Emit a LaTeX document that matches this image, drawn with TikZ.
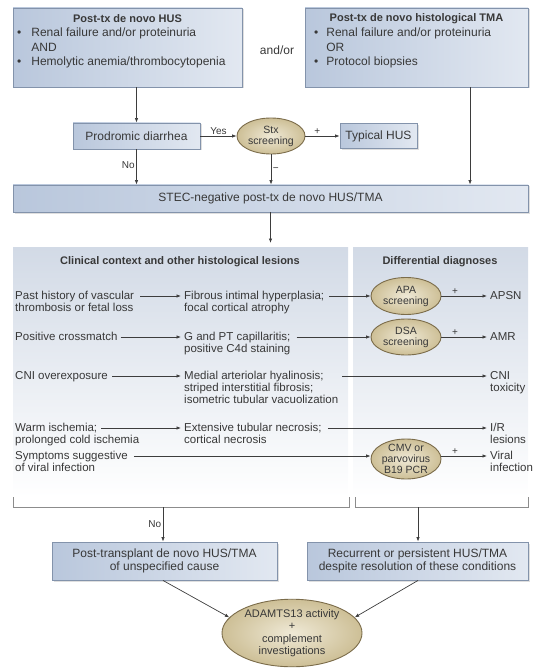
\documentclass[tikz,border=0pt]{standalone}
\usepackage{fontspec}
\setmainfont{Liberation Sans}
\usetikzlibrary{arrows.meta,shadows,shapes.geometric}
\definecolor{boxline}{HTML}{8393AB}
\definecolor{boxL}{HTML}{B9C7DC}
\definecolor{boxR}{HTML}{E2E8F1}
\definecolor{ovline}{HTML}{7B6C4A}
\definecolor{ovin}{HTML}{EFE9D6}
\definecolor{ovout}{HTML}{CDBF96}
\definecolor{arrc}{HTML}{3D3D3D}
\definecolor{txt}{HTML}{383838}
\definecolor{panelT}{HTML}{D2DAE6}
\definecolor{brk}{HTML}{8C8C8C}
\begin{document}
\begin{tikzpicture}[x=1pt,y=-1pt,
  font=\fontsize{12}{13}\selectfont, text=txt,
  bbox/.style={draw=boxline,line width=0.9pt,left color=boxL,right color=boxR,inner sep=0pt,align=center,
    drop shadow={opacity=0.25,shadow xshift=1.5pt,shadow yshift=-1.5pt}},
  oval/.style={ellipse,draw=ovline,line width=0.9pt,inner color=ovin,outer color=ovout,inner sep=0pt,align=center,
    font=\fontsize{10.5}{11}\selectfont},
  panel/.style={draw=none,top color=panelT,bottom color=white,anchor=north west,inner sep=0pt},
  arr/.style={draw=arrc,line width=0.7pt,-{Latex[length=4.5pt,width=3.5pt]}},
  brkline/.style={draw=brk,line width=0.8pt},
  lbl/.style={font=\fontsize{10}{11}\selectfont,inner sep=1.5pt},
  txtl/.style={anchor=north west,align=left,inner sep=0pt,font=\fontsize{11.5}{12}\selectfont},
  blist/.style={anchor=north west,inner sep=0pt,font=\fontsize{12}{14.5}\selectfont},
  hd/.style={font=\bfseries\fontsize{11}{13}\selectfont,inner sep=0pt}
]
\useasboundingbox (0,0) rectangle (533,668);

% ---------- top boxes ----------
\node[bbox, minimum width=229pt, minimum height=79pt] (tlb) at (127.5,47.5) {};
\node[hd] (tlh) at (127.5,19) {Post-tx de novo HUS};
\node[blist] (tll) at (17,26.5) {\begin{tabular}{@{}l@{\hspace{10pt}}l@{}}•&Renal failure and/or proteinuria\\&AND\\•&Hemolytic anemia/thrombocytopenia\end{tabular}};

\node[bbox, minimum width=223pt, minimum height=79pt] (trb) at (416.5,47.5) {};
\node[hd] (trh) at (416.5,19) {Post-tx de novo histological TMA};
\node[blist] (trl) at (314,26.5) {\begin{tabular}{@{}l@{\hspace{8pt}}l@{}}•&Renal failure and/or proteinuria\\&OR\\•&Protocol biopsies\end{tabular}};

\node (andor) at (277,50) {and/or};

% ---------- Stx part ----------
\node[bbox, minimum width=127pt, minimum height=26pt] (prod) at (136.5,136) {Prodromic diarrhea};
\node[oval, minimum width=68pt, minimum height=36pt] (stx) at (271,136) {Stx\\screening};
\node[bbox, minimum width=77pt, minimum height=25pt] (typ) at (378.5,136) {Typical HUS};
\node[bbox, minimum width=515pt, minimum height=27pt] (stec) at (270.5,198.5) {STEC-negative post-tx de novo HUS/TMA};
\coordinate (trx) at (470,87);

\draw[arr] (tlb.south -| prod.north) -- (prod.north);
\draw[arr] (prod.east) -- node[lbl, above] {Yes} (stx.west);
\draw[arr] (stx.east) -- node[lbl, above, pos=0.35] {+} (typ.west);
\draw[arr] (prod.south) -- node[lbl, left, pos=0.45] {No} (prod.south |- stec.north);
\draw[arr] (stx.south) -- node[lbl, right, pos=0.5] {−} (stx.south |- stec.north);
\draw[arr] (trb.south -| trx) -- (trx |- stec.north);

% ---------- panels ----------
\node[panel, minimum width=335pt, minimum height=250pt] (pl) at (13,247) {};
\node[panel, minimum width=175pt, minimum height=250pt] (pr) at (353,247) {};
\draw[arr] (stec.south) -- ([yshift=4pt]stec.south |- pl.north);

\node[hd] (hl) at (180,262) {Clinical context and other histological lesions};
\node[hd] (hr) at (440,262) {Differential diagnoses};

% row 1
\coordinate (y1) at (0,296);
\node[txtl] (r1a) at (15,291) {Past history of vascular\\thrombosis or fetal loss};
\node[txtl] (r1b) at (184,291) {Fibrous intimal hyperplasia;\\focal cortical atrophy};
\node[oval, minimum width=70pt, minimum height=37pt] (apa) at (406,296) {APA\\screening};
\node[txtl] (r1c) at (490,291) {APSN};
\draw[arr] ([xshift=6pt]r1a.east |- y1) -- ([xshift=-3pt]r1b.west |- y1);
\draw[arr] ([xshift=5pt]r1b.east |- y1) -- (apa.west);
\draw[arr] (apa.east) -- node[lbl, above, pos=0.3] {+} ([xshift=-3pt]r1c.west |- y1);

% row 2
\coordinate (y2) at (0,337);
\node[txtl] (r2a) at (15,332) {Positive crossmatch};
\node[txtl] (r2b) at (184,332) {G and PT capillaritis;\\positive C4d staining};
\node[oval, minimum width=70pt, minimum height=36pt] (dsa) at (406,337) {DSA\\screening};
\node[txtl] (r2c) at (490,332) {AMR};
\draw[arr] ([xshift=3pt]r2a.east |- y2) -- ([xshift=-3pt]r2b.west |- y2);
\draw[arr] ([xshift=6pt]r2b.east |- y2) -- (dsa.west);
\draw[arr] (dsa.east) -- node[lbl, above, pos=0.3] {+} ([xshift=-3pt]r2c.west |- y2);

% row 3
\coordinate (y3) at (0,376);
\node[txtl] (r3a) at (15,371) {CNI overexposure};
\node[txtl] (r3b) at (184,371) {Medial arteriolar hyalinosis;\\striped interstitial fibrosis;\\isometric tubular vacuolization};
\node[txtl] (r3c) at (490,371) {CNI\\toxicity};
\draw[arr] ([xshift=4pt]r3a.east |- y3) -- ([xshift=-3pt]r3b.west |- y3);
\draw[arr] ([xshift=4pt]r3b.east |- y3) -- ([xshift=-3pt]r3c.west |- y3);

% row 4
\coordinate (y4) at (0,428);
\node[txtl] (r4a) at (15,423) {Warm ischemia;};
\node[txtl] (r4a2) at (15,435) {prolonged cold ischemia};
\node[txtl] (r4b) at (184,423) {Extensive tubular necrosis;\\cortical necrosis};
\node[txtl] (r4c) at (490,423) {I/R\\lesions};
\draw[arr] ([xshift=4pt]r4a.east |- y4) -- ([xshift=-3pt]r4b.west |- y4);
\draw[arr] ([xshift=6pt]r4b.east |- y4) -- ([xshift=-3pt]r4c.west |- y4);

% row 5
\coordinate (y5) at (0,456);
\node[txtl] (r5a) at (15,451) {Symptoms suggestive\\of viral infection};
\node[oval, minimum width=70pt, minimum height=40pt, inner ysep=-3pt] (cmv) at (406,459) {CMV or\\parvovirus\\B19 PCR};
\node[txtl] (r5c) at (490,451) {Viral\\infection};
\draw[arr] ([xshift=6pt]r5a.east |- y5) -- (cmv.west |- y5);
\draw[arr] (cmv.east |- y5) -- node[lbl, above, pos=0.3] {+} ([xshift=-3pt]r5c.west |- y5);

% ---------- brackets ----------
\coordinate (bkL1) at (13,497);
\coordinate (bkL2) at (13,507);
\coordinate (bkL3) at (349,507);
\coordinate (bkL4) at (349,497);
\coordinate (bkR1) at (355,497);
\coordinate (bkR2) at (355,507);
\coordinate (bkR3) at (528,507);
\coordinate (bkR4) at (528,497);
\draw[brkline] (bkL1) -- (bkL2) -- (bkL3) -- (bkL4);
\draw[brkline] (bkR1) -- (bkR2) -- (bkR3) -- (bkR4);
\coordinate (stemL) at (163,507);
\coordinate (stemR) at (418,507);

% ---------- bottom ----------
\node[bbox, minimum width=225pt, minimum height=38pt] (lb) at (164.5,561) {Post-transplant de novo HUS/TMA\\of unspecified cause};
\node[bbox, minimum width=221pt, minimum height=38pt] (rb) at (417.5,561) {Recurrent or persistent HUS/TMA\\despite resolution of these conditions};
\draw[arr] (stemL) -- node[lbl, left, pos=0.5] {No} (stemL |- lb.north);
\draw[arr] (stemR) -- (stemR |- rb.north);

\node[oval, minimum width=140pt, minimum height=66pt, font=\fontsize{11}{12.5}\selectfont] (fin) at (292,633) {ADAMTS13 activity\\+\\complement\\investigations};
\draw[arr] (lb.south -| stemL) -- (fin.166);
\draw[arr] (rb.south -| stemR) -- (fin.14);
\end{tikzpicture}
\end{document}
